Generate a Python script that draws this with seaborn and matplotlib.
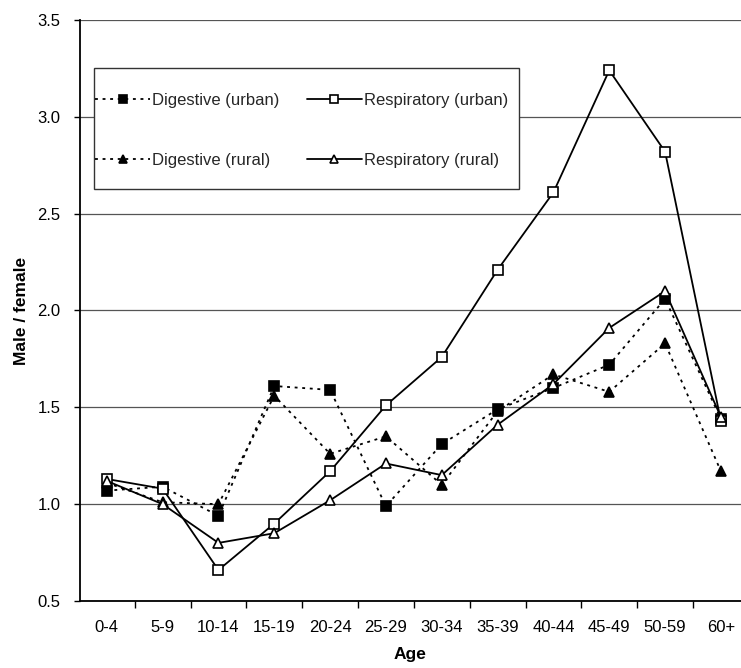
import matplotlib
matplotlib.use("Agg")
import matplotlib.pyplot as plt
import seaborn as sns
import pandas as pd
import numpy as np
from matplotlib.ticker import FixedLocator
from matplotlib.patches import Rectangle

ages = ["0-4", "5-9", "10-14", "15-19", "20-24", "25-29", "30-34",
        "35-39", "40-44", "45-49", "50-59", "60+"]
digestive_urban = [1.07, 1.09, 0.94, 1.61, 1.59, 0.99, 1.31, 1.49, 1.60, 1.72, 2.06, 1.44]
digestive_rural = [1.11, 1.01, 1.00, 1.56, 1.26, 1.35, 1.10, 1.48, 1.67, 1.58, 1.83, 1.17]
respiratory_urban = [1.13, 1.08, 0.66, 0.90, 1.17, 1.51, 1.76, 2.21, 2.61, 3.24, 2.82, 1.43]
respiratory_rural = [1.12, 1.00, 0.80, 0.85, 1.02, 1.21, 1.15, 1.41, 1.62, 1.91, 2.10, 1.45]
y_ticks = [0.5, 1.0, 1.5, 2.0, 2.5, 3.0, 3.5]

series = {
    "Digestive (urban)": digestive_urban,
    "Digestive (rural)": digestive_rural,
    "Respiratory (urban)": respiratory_urban,
    "Respiratory (rural)": respiratory_rural,
}
styles = {
    "Digestive (urban)": dict(ls=(0, (1.6, 2.6)), marker="s", mfc="black"),
    "Digestive (rural)": dict(ls=(0, (1.6, 2.6)), marker="^", mfc="black"),
    "Respiratory (urban)": dict(ls="-", marker="s", mfc="white"),
    "Respiratory (rural)": dict(ls="-", marker="^", mfc="white"),
}

sns.set_theme(style="white")
plt.rcParams["font.family"] = ["Liberation Sans", "DejaVu Sans"]

fig = plt.figure(figsize=(7.41, 6.68), dpi=100)
ax = fig.add_axes([80 / 741, 1 - 601 / 668, (741 - 80) / 741, (601 - 20) / 668])

for name, vals in series.items():
    df = pd.DataFrame({"x": np.arange(len(ages)), "y": vals})
    st = styles[name]
    sns.lineplot(data=df, x="x", y="y", ax=ax, color="black", linewidth=1.3,
                 linestyle=st["ls"], marker=st["marker"], markersize=7.3,
                 markerfacecolor=st["mfc"], markeredgecolor="black",
                 markeredgewidth=1.2, sort=False, label=name, zorder=3)

ax.set_ylim(0.5, 3.5)
ax.set_xlim(-0.48, 11.36)
ax.set_yticks(y_ticks)
ax.set_yticklabels([f"{v:.1f}" for v in y_ticks])
ax.set_xticks(np.arange(len(ages)))
ax.set_xticklabels(ages)
ax.xaxis.set_minor_locator(FixedLocator(np.arange(-0.5, 12, 1.0)))
ax.tick_params(axis="x", which="major", length=0, pad=14, labelsize=12, colors="black")
ax.tick_params(axis="x", which="minor", length=5, width=1, color="black", bottom=True)
ax.tick_params(axis="y", which="major", length=4, width=1, color="black", left=True,
               pad=10, labelsize=12, colors="black")

ax.grid(axis="y", color="#555555", linewidth=0.9)
ax.grid(axis="x", visible=False)
for s in ["top", "right"]:
    ax.spines[s].set_visible(False)
for s in ["left", "bottom"]:
    ax.spines[s].set_color("black")
    ax.spines[s].set_linewidth(1.3)

ax.set_xlabel("Age", fontsize=12.5, fontweight="bold", labelpad=8, color="black")
ax.set_ylabel("Male / female", fontsize=12.5, fontweight="bold", labelpad=6, color="black")

# legend frame
x0 = (94 - 80) / 661
x1 = (519 - 80) / 661
yt = (601 - 68) / 581
yb = (601 - 189) / 581
ax.add_patch(Rectangle((x0, yb), x1 - x0, yt - yb, transform=ax.transAxes,
                       facecolor="white", edgecolor="#333333", linewidth=1.0, zorder=5))

h, l = ax.get_legend_handles_labels()
order = ["Digestive (urban)", "Digestive (rural)", "Respiratory (urban)", "Respiratory (rural)"]
hd = dict(zip(l, h))
leg = ax.legend([hd[k] for k in order], order, ncol=2, loc="upper left",
                bbox_to_anchor=((95 - 80) / 661, (601 - 93) / 581), borderaxespad=0,
                borderpad=0, fontsize=12, frameon=False,
                labelspacing=2.68, handlelength=3.3,
                handletextpad=0.15, columnspacing=1.6, markerscale=0.7)
leg.set_zorder(6)

fig.savefig("out.png", dpi=100)
